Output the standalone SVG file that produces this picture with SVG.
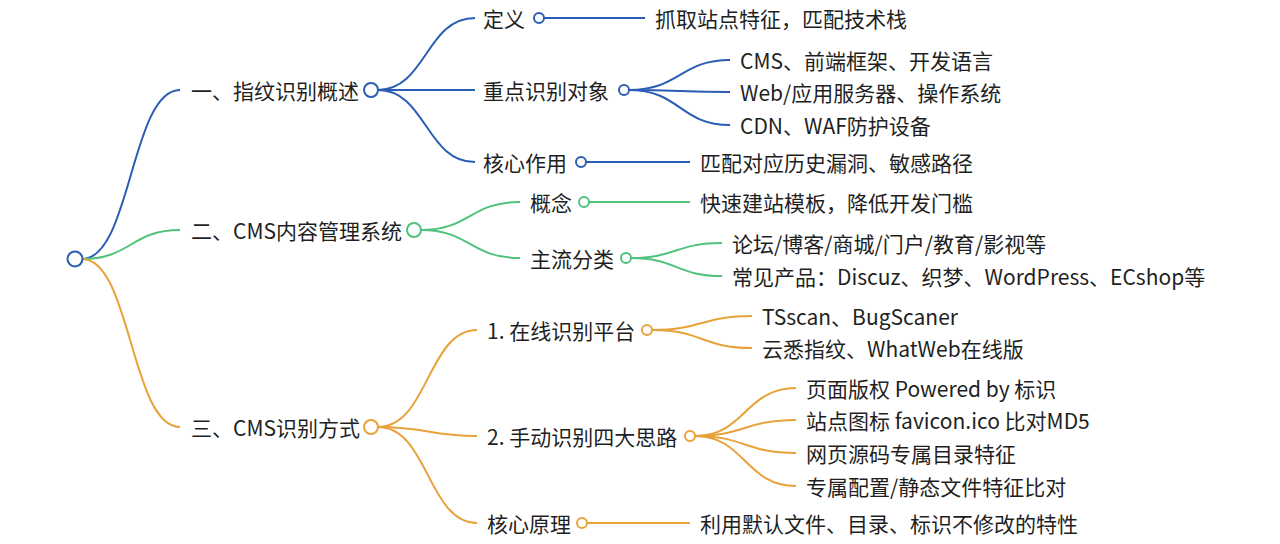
<svg xmlns="http://www.w3.org/2000/svg" width="1280" height="544" viewBox="0 0 1280 544">
<style>
text{font-family:"Noto Sans CJK SC","Noto Sans",sans-serif;font-size:21px;fill:#1f1f1f;dominant-baseline:central}
.b{stroke:#2a5db5}
.g{stroke:#4fc27c}
.o{stroke:#e8a23a}
#connectors path{fill:none;stroke-width:2}
circle{fill:#fff;stroke-width:2}
</style>
<rect width="1280" height="544" fill="#fff"/>
<g id="connectors">
<path class="b" d="M82,259 C131,259 131,90 180,90"/>
<path class="g" d="M82,259 C131,259 131,230 180,230"/>
<path class="o" d="M82,259 C131,259 131,427 180,427"/>
<path class="b" d="M378,90 C426,90 426,18 475,18"/>
<path class="b" d="M378,90 L475,90"/>
<path class="b" d="M378,90 C426,90 426,162 475,162"/>
<path class="b" d="M544,18 L645,18"/>
<path class="b" d="M629,90 C680,90 680,60 730,60"/>
<path class="b" d="M629,90 C680,90 680,92 730,92"/>
<path class="b" d="M629,90 C680,90 680,125 730,125"/>
<path class="b" d="M586,162 L690,162"/>
<path class="g" d="M421,230 C470,230 470,202 520,202"/>
<path class="g" d="M421,230 C470,230 470,258 520,258"/>
<path class="g" d="M589,202 L690,202"/>
<path class="g" d="M631,258 C676,258 676,243 722,243"/>
<path class="g" d="M631,258 C676,258 676,276 722,276"/>
<path class="o" d="M378,427 C428,427 428,330 477,330"/>
<path class="o" d="M378,427 C428,427 428,436 477,436"/>
<path class="o" d="M378,427 C428,427 428,523 477,523"/>
<path class="o" d="M652,330 C702,330 702,316 752,316"/>
<path class="o" d="M652,330 C702,330 702,348 752,348"/>
<path class="o" d="M695,436 C745,436 745,388 796,388"/>
<path class="o" d="M695,436 C745,436 745,420 796,420"/>
<path class="o" d="M695,436 C745,436 745,453 796,453"/>
<path class="o" d="M695,436 C745,436 745,486 796,486"/>
<path class="o" d="M587,523 L690,523"/>
</g>
<g id="root"><circle class="b" cx="75" cy="259" r="7.5"/></g>
<g id="n1"><text x="191" y="90">一、指纹识别概述</text><circle class="b" cx="371" cy="90" r="7"/></g>
<g id="n1-1"><text x="483" y="18">定义</text><circle class="b" cx="539" cy="18" r="5"/></g>
<g id="n1-1-1"><text x="655" y="18">抓取站点特征，匹配技术栈</text></g>
<g id="n1-2"><text x="483" y="90">重点识别对象</text><circle class="b" cx="624" cy="90" r="5"/></g>
<g id="n1-2-1"><text x="740" y="60">CMS、前端框架、开发语言</text></g>
<g id="n1-2-2"><text x="740" y="92">Web/应用服务器、操作系统</text></g>
<g id="n1-2-3"><text x="740" y="125">CDN、WAF防护设备</text></g>
<g id="n1-3"><text x="483" y="162">核心作用</text><circle class="b" cx="581" cy="162" r="5"/></g>
<g id="n1-3-1"><text x="700" y="162">匹配对应历史漏洞、敏感路径</text></g>
<g id="n2"><text x="191" y="230">二、CMS内容管理系统</text><circle class="g" cx="414" cy="230" r="7"/></g>
<g id="n2-1"><text x="530" y="202">概念</text><circle class="g" cx="584" cy="202" r="5"/></g>
<g id="n2-1-1"><text x="700" y="202">快速建站模板，降低开发门槛</text></g>
<g id="n2-2"><text x="530" y="258">主流分类</text><circle class="g" cx="626" cy="258" r="5"/></g>
<g id="n2-2-1"><text x="732" y="243">论坛/博客/商城/门户/教育/影视等</text></g>
<g id="n2-2-2"><text x="732" y="276">常见产品：Discuz、织梦、WordPress、ECshop等</text></g>
<g id="n3"><text x="191" y="427">三、CMS识别方式</text><circle class="o" cx="371" cy="427" r="7"/></g>
<g id="n3-1"><text x="487" y="330">1. 在线识别平台</text><circle class="o" cx="647" cy="330" r="5"/></g>
<g id="n3-1-1"><text x="762" y="316">TSscan、BugScaner</text></g>
<g id="n3-1-2"><text x="762" y="348">云悉指纹、WhatWeb在线版</text></g>
<g id="n3-2"><text x="487" y="436">2. 手动识别四大思路</text><circle class="o" cx="690" cy="436" r="5"/></g>
<g id="n3-2-1"><text x="806" y="388">页面版权 Powered by 标识</text></g>
<g id="n3-2-2"><text x="806" y="420">站点图标 favicon.ico 比对MD5</text></g>
<g id="n3-2-3"><text x="806" y="453">网页源码专属目录特征</text></g>
<g id="n3-2-4"><text x="806" y="486">专属配置/静态文件特征比对</text></g>
<g id="n3-3"><text x="487" y="523">核心原理</text><circle class="o" cx="582" cy="523" r="5"/></g>
<g id="n3-3-1"><text x="700" y="523">利用默认文件、目录、标识不修改的特性</text></g>
</svg>
